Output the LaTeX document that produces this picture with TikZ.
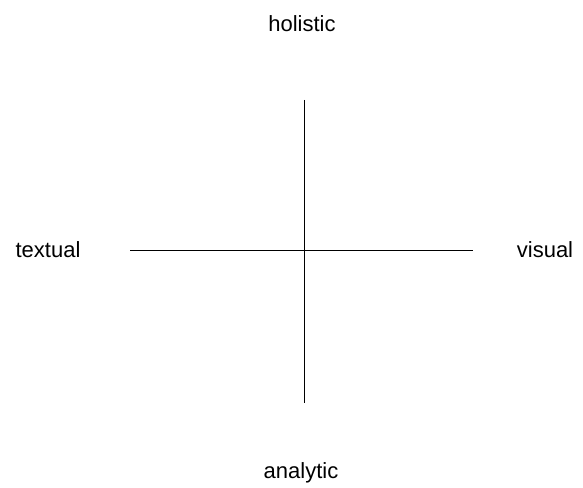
\documentclass[tikz,border=0pt]{standalone}
\usepackage{fontspec}
\setmainfont{Liberation Sans}
\usetikzlibrary{positioning}

\begin{document}
\begin{tikzpicture}[
    x=1pt, y=1pt,
    pole/.style={font=\fontsize{22}{26}\selectfont, inner sep=0pt, anchor=base},
    axis/.style={draw=black, line width=1pt}
]
    \useasboundingbox (0,0) rectangle (583,487);
    \coordinate (top) at (304,387);
    \coordinate (bottom) at (304,84);
    \coordinate (left) at (130,236);
    \coordinate (right) at (473,236);

    \node[pole] (holistic) at (302,455) {holistic};
    \node[pole] (analytic) at (301,9) {analytic};
    \node[pole] (textual) at (48,229) {textual};
    \node[pole] (visual) at (545,229) {visual};

    \draw[axis] (top) -- (bottom);
    \draw[axis] (left) -- (right);
\end{tikzpicture}
\end{document}
